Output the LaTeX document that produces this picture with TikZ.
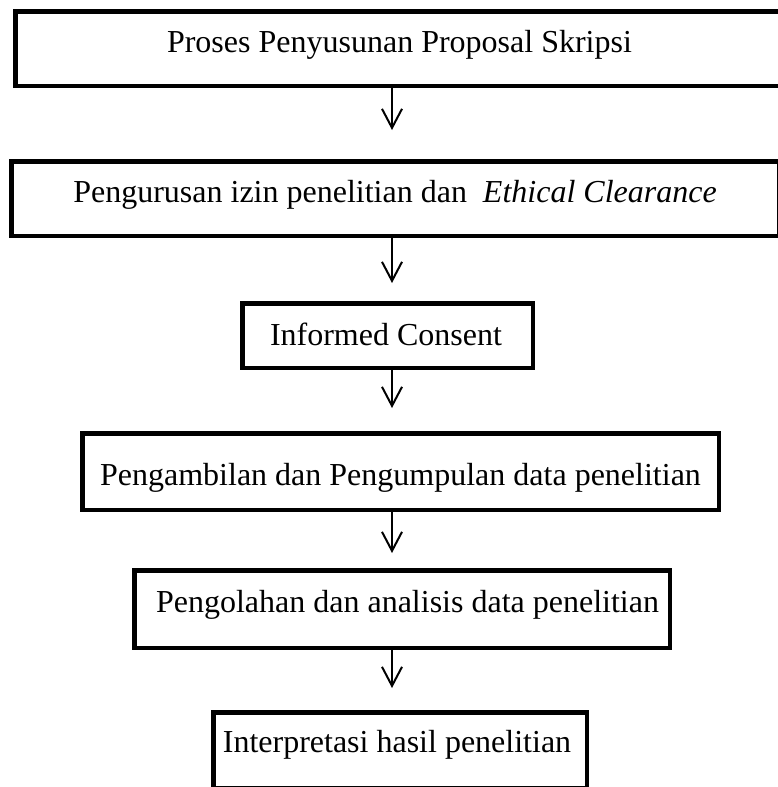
\documentclass[tikz,border=0pt]{standalone}
\usepackage{fontspec}
\setmainfont{Liberation Serif}
\usetikzlibrary{arrows.meta}
\begin{document}
\begin{tikzpicture}[x=1pt,y=1pt,
  box/.style={draw=black, line width=4.5pt, inner sep=0pt, rectangle},
  txt/.style={inner sep=0pt, anchor=base, font=\fontsize{32}{38}\selectfont},
  arr/.style={line width=2pt, -{Straight Barb[length=19pt,width=20pt]}}]
\useasboundingbox (0,0) rectangle (778,-787);
\fill[white] (0,0) rectangle (778,-787);
\coordinate (ax) at (392,0);
% boxes
\node[box, minimum width=782.5pt, minimum height=74.5pt] (b1) at (406.5,-48.5) {};
\node[box, minimum width=768pt, minimum height=74.5pt] (b2) at (395.25,-198.5) {};
\node[box, minimum width=290.5pt, minimum height=64.5pt] (b3) at (387.5,-335.5) {};
\node[box, minimum width=636.5pt, minimum height=76.5pt] (b4) at (400.5,-471.5) {};
\node[box, minimum width=535.5pt, minimum height=77.5pt] (b5) at (402,-609) {};
\node[box, minimum width=373.5pt, minimum height=75.5pt] (b6) at (400,-750) {};
% texts
\node[txt] (t1) at (399.5,-52) {Proses Penyusunan Proposal Skripsi};
\node[txt] (t2) at (395,-202) {Pengurusan izin penelitian dan~ \textit{Ethical Clearance}};
\node[txt] (t3) at (386,-345) {Informed Consent};
\node[txt] (t4) at (400.5,-485) {Pengambilan dan Pengumpulan data penelitian};
\node[txt] (t5) at (407.5,-612) {Pengolahan dan analisis data penelitian};
\node[txt] (t6) at (397,-752) {Interpretasi hasil penelitian};
% arrows
\draw[arr, shorten >=29pt] (b1.south -| ax) -- (b2.north -| ax);
\draw[arr, shorten >=18pt] (b2.south -| ax) -- (b3.north -| ax);
\draw[arr, shorten >=23pt] (b3.south -| ax) -- (b4.north -| ax);
\draw[arr, shorten >=15pt] (b4.south -| ax) -- (b5.north -| ax);
\draw[arr, shorten >=22pt] (b5.south -| ax) -- (b6.north -| ax);
\end{tikzpicture}
\end{document}
